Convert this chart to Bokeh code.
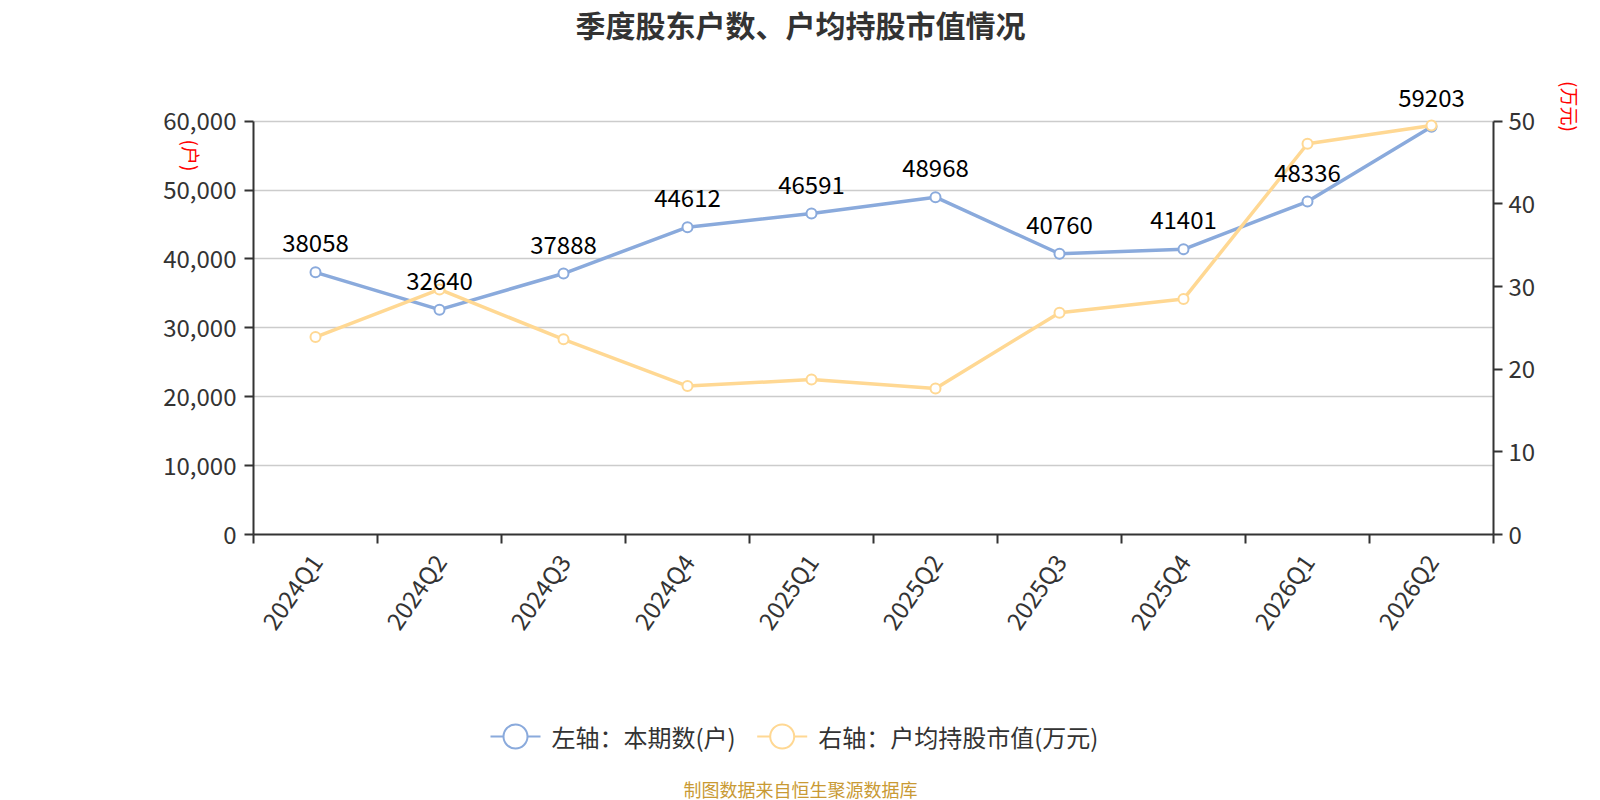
import math
from bokeh.plotting import figure
from bokeh.models import (Range1d, LinearAxis, FixedTicker, NumeralTickFormatter,
                          ColumnDataSource, LabelSet, Label, Grid, Column)
from bokeh.core.properties import value
from bokeh.embed import file_html
from bokeh.resources import INLINE

# ---------------- data ----------------
quarters = ["2024Q1", "2024Q2", "2024Q3", "2024Q4", "2025Q1",
            "2025Q2", "2025Q3", "2025Q4", "2026Q1", "2026Q2"]
holders = [38058, 32640, 37888, 44612, 46591, 48968, 40760, 41401, 48336, 59203]
avg_value = [23.89, 29.65, 23.61, 17.96, 18.74, 17.65, 26.84, 28.48, 47.27, 49.48]
left_ticks = [0, 10000, 20000, 30000, 40000, 50000, 60000]
right_ticks = [0, 10, 20, 30, 40, 50]

title_text = "季度股东户数、户均持股市值情况"
legend_labels = ["左轴：本期数(户)", "右轴：户均持股市值(万元)"]
unit_left = "(户)"
unit_right = "(万元)"
footer_text = "制图数据来自恒生聚源数据库"

# ---------------- style / layout ----------------
FONT = "Noto Sans CJK SC"
BLUE = "#8aaadc"
YELLOW = "#ffd893"
AXIS = "#333333"
W = 1600
H_MAIN, H_FOOT = 680, 120
FRAME_LEFT, FRAME_RIGHT = 253, 1493
FRAME_BOTTOM = 534          # pixel row of the x axis
TOP_TICK_PX = 120.7         # pixel row of the highest y tick
scale_up = FRAME_BOTTOM / (FRAME_BOTTOM - TOP_TICK_PX)

n = len(quarters)
idx = list(range(n))
src = ColumnDataSource(dict(x=idx, q=quarters, holders=holders, avg=avg_value,
                            lab=[str(v) for v in holders]))

p = figure(width=W, height=H_MAIN, output_backend="svg", toolbar_location=None, title=None,
           x_range=Range1d(-0.5, n - 0.5),
           y_range=Range1d(left_ticks[0], left_ticks[-1] * scale_up),
           x_axis_type=None, y_axis_type=None,
           min_border_left=FRAME_LEFT, min_border_right=W - FRAME_RIGHT,
           min_border_top=0, min_border_bottom=H_MAIN - FRAME_BOTTOM)
p.outline_line_color = None
p.extra_y_ranges = {"r": Range1d(right_ticks[0], right_ticks[-1] * scale_up)}

def px_x(px):
    return (px - FRAME_LEFT) / ((FRAME_RIGHT - FRAME_LEFT) / n) - 0.5

def px_y(py):
    return (FRAME_BOTTOM - py) / (FRAME_BOTTOM - TOP_TICK_PX) * left_ticks[-1]

def style_axis(ax):
    ax.axis_line_color = AXIS
    ax.axis_line_width = 2
    ax.major_tick_line_color = AXIS
    ax.major_tick_line_width = 2
    ax.major_tick_in = 0
    ax.major_tick_out = 9
    ax.minor_tick_line_color = None
    ax.major_label_text_font = FONT
    ax.major_label_text_font_size = "24px"
    ax.major_label_text_color = AXIS

yl = LinearAxis(ticker=FixedTicker(ticks=left_ticks), formatter=NumeralTickFormatter(format="0,0"),
                bounds=(left_ticks[0], left_ticks[-1]))
style_axis(yl)
yl.major_label_standoff = 8
p.add_layout(yl, "left")

yr = LinearAxis(y_range_name="r", ticker=FixedTicker(ticks=right_ticks),
                bounds=(right_ticks[0], right_ticks[-1]))
style_axis(yr)
yr.major_label_standoff = 6
p.add_layout(yr, "right")

xb = LinearAxis(ticker=FixedTicker(ticks=idx, minor_ticks=[i - 0.5 for i in range(n + 1)]))
style_axis(xb)
xb.major_label_overrides = {i: q for i, q in zip(idx, quarters)}
xb.major_tick_line_color = None
xb.major_tick_out = 0
xb.minor_tick_line_color = AXIS
xb.minor_tick_line_width = 2
xb.minor_tick_in = 0
xb.minor_tick_out = 9
xb.major_label_orientation = math.radians(55)
xb.major_label_standoff = 13
p.add_layout(xb, "below")

p.add_layout(Grid(dimension=1, ticker=yl.ticker, grid_line_color="#cccccc", grid_line_width=1.5))

# ---------------- series ----------------
p.line("x", "holders", source=src, line_color=BLUE, line_width=3.5)
p.scatter("x", "holders", source=src, marker="circle", size=10, fill_color="white",
          line_color=BLUE, line_width=2)
p.line("x", "avg", source=src, y_range_name="r", line_color=YELLOW, line_width=3.5)
p.scatter("x", "avg", source=src, y_range_name="r", marker="circle", size=10,
          fill_color="white", line_color=YELLOW, line_width=2)

p.add_layout(LabelSet(x="x", y="holders", text="lab", source=src, text_align="center",
                      text_baseline="alphabetic", y_offset=20, text_font=value(FONT),
                      text_font_size="24px", text_color="#000000"))

# title (inside the frame area, which reaches the top of the canvas)
p.add_layout(Label(x=800 - FRAME_LEFT, y=FRAME_BOTTOM - 23, x_units="screen", y_units="screen",
                   text=title_text, text_align="center", text_baseline="middle",
                   text_font=FONT, text_font_size="30px", text_font_style="bold",
                   text_color=AXIS))

# axis unit labels, in the left side panel, positioned with the plot's scales
for ux, uy, ut in [(190.5, 155, unit_left), (1570, 106, unit_right)]:
    p.add_layout(Label(x=px_x(ux), y=px_y(uy), x_units="data", y_units="data", text=ut,
                       angle=-math.pi / 2, text_align="center", text_baseline="middle",
                       text_font=FONT, text_font_size="19px", text_color="#ff0000"), "left")

# ---------------- lower strip: legend + source note ----------------
ov = figure(width=W, height=H_FOOT, output_backend="svg", toolbar_location=None, title=None,
            x_range=Range1d(FRAME_LEFT, FRAME_RIGHT), y_range=Range1d(H_MAIN + H_FOOT, H_MAIN),
            x_axis_type=None, y_axis_type=None,
            min_border_left=FRAME_LEFT, min_border_right=W - FRAME_RIGHT,
            min_border_top=0, min_border_bottom=0)
ov.outline_line_color = None

leg_cx = [515, 781.7]
leg_y = [736, 736]
leg_colors = [BLUE, YELLOW]
ov.segment(x0=[c - 25 for c in leg_cx], x1=[c + 25 for c in leg_cx], y0=leg_y, y1=leg_y,
           line_color=leg_colors, line_width=2)
ov.scatter(x=leg_cx, y=leg_y, marker="circle", size=24, fill_color="white",
           line_color=leg_colors, line_width=2)
ov.text(x=[c + 36 for c in leg_cx], y=leg_y, text=legend_labels, text_align="left",
        text_baseline="middle", text_font=value(FONT), text_font_size="24px", text_color=AXIS)
ov.text(x=[800], y=[788], text=[footer_text], text_align="center", text_baseline="middle",
        text_font=value(FONT), text_font_size="18px", text_color="#c99a34")

layout = Column(children=[p, ov], spacing=0)
open("out.html", "w").write(file_html(layout, INLINE))
